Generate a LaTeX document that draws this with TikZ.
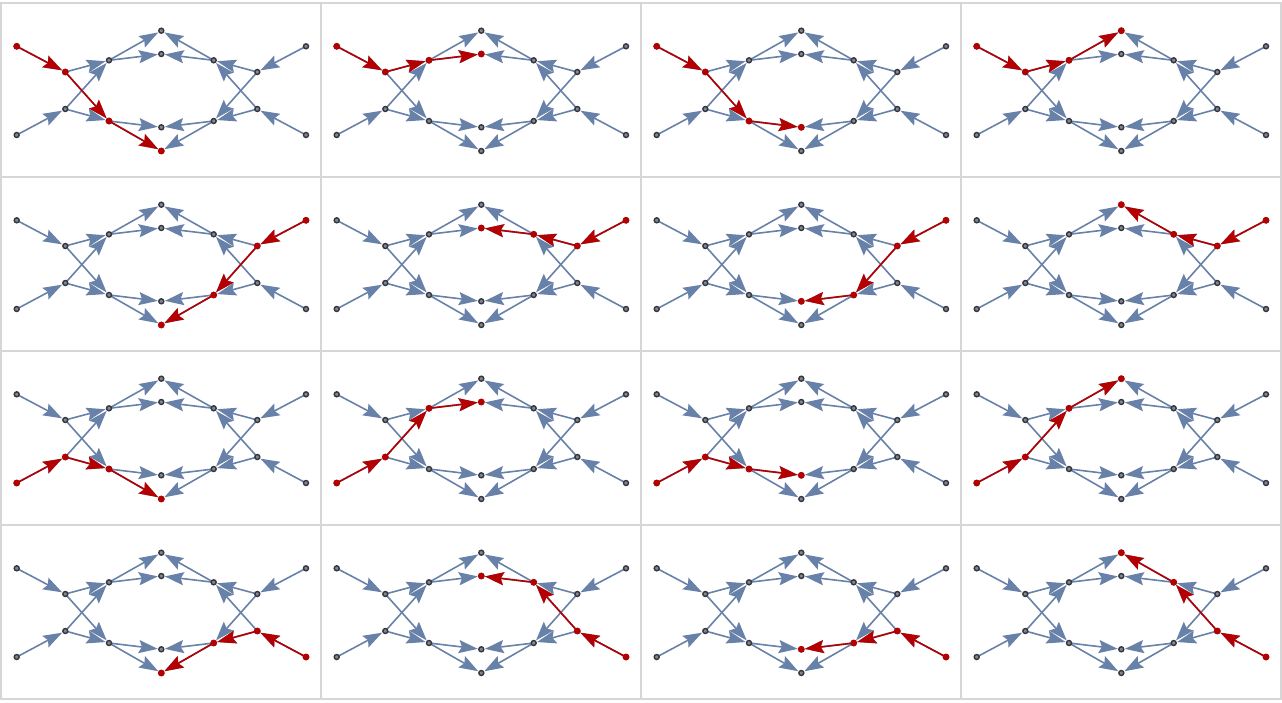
\documentclass[tikz,border=0pt]{standalone}
\usepackage{tikz}
\usetikzlibrary{arrows.meta,positioning}

\definecolor{edgeblue}{RGB}{104,129,168}
\definecolor{pathred}{RGB}{180,0,0}
\definecolor{vtxdark}{RGB}{52,54,62}
\definecolor{vtxfill}{RGB}{128,134,146}
\definecolor{gridgray}{RGB}{214,214,214}

\tikzset{
  edge/.style={draw=edgeblue, line width=1.6pt, shorten >=3.5pt,
    -{Stealth[length=19pt, width=13pt, inset=3pt]}},
  redge/.style={edge, draw=pathred},
  vtx/.style={circle, draw=vtxdark, fill=vtxfill, line width=1.4pt,
    inner sep=0pt, minimum size=5pt},
  rvtx/.style={circle, fill=pathred, inner sep=0pt, minimum size=6.8pt},
  gridline/.style={draw=gridgray, line width=2pt}
}

\begin{document}
\begin{tikzpicture}[x=1pt, y=-1pt]
  \useasboundingbox (0,0) rectangle (1282,702);

  % frame of the 4x4 panels
  \foreach \i in {0,...,4} {
    \draw[gridline] (\i*320+0.7,1.7) -- (\i*320+0.7,698.7);
    \draw[gridline] (0,\i*174+2.7) -- (1282,\i*174+2.7);
  }

  % one panel per path: source / two middle vertices / sink
  \foreach \n/\cx/\cy/\s/\p/\q/\t in {
      1/0/0/L1/a/d/B,   2/1/0/L1/a/c/Ti,  3/2/0/L1/a/d/Bi,  4/3/0/L1/a/c/T,
      5/0/1/R1/g/f/B,   6/1/1/R1/g/e/Ti,  7/2/1/R1/g/f/Bi,  8/3/1/R1/g/e/T,
      9/0/2/L2/b/d/B,  10/1/2/L2/b/c/Ti, 11/2/2/L2/b/d/Bi, 12/3/2/L2/b/c/T,
     13/0/3/R2/h/f/B,  14/1/3/R2/h/e/Ti, 15/2/3/R2/h/f/Bi, 16/3/3/R2/h/e/T} {
    \begin{scope}[shift={(\cx*320,\cy*174)}]
      % vertices
      \coordinate (L1) at (16.7,46.3);
      \coordinate (L2) at (16.7,135);
      \coordinate (a) at (65.3,72);
      \coordinate (b) at (65.3,109);
      \coordinate (c) at (109,60.3);
      \coordinate (d) at (109,121);
      \coordinate (T) at (161.3,30.7);
      \coordinate (Ti) at (161.3,54);
      \coordinate (Bi) at (161.3,127.3);
      \coordinate (B) at (161.3,151);
      \coordinate (e) at (213.7,60.3);
      \coordinate (f) at (213.7,121);
      \coordinate (g) at (257.3,72);
      \coordinate (h) at (257.3,109);
      \coordinate (R1) at (306,46.3);
      \coordinate (R2) at (306,135);

      % edges
      \foreach \u/\v in {L1/a, L2/b, a/c, a/d, b/c, b/d, c/T, c/Ti, d/Bi, d/B,
                         R1/g, R2/h, g/e, g/f, h/e, h/f, e/T, e/Ti, f/Bi, f/B}
        \draw[edge] (\u) -- (\v);

      % highlighted path
      \draw[redge] (\s) -- (\p);
      \draw[redge] (\p) -- (\q);
      \draw[redge] (\q) -- (\t);

      \foreach \v in {L1, L2, a, b, c, d, T, Ti, Bi, B, e, f, g, h, R1, R2}
        \node[vtx] (p\n-\v) at (\v) {};
      \foreach \v in {\s, \p, \q, \t}
        \node[rvtx] (r\n-\v) at (\v) {};
    \end{scope}
  }
\end{tikzpicture}
\end{document}
